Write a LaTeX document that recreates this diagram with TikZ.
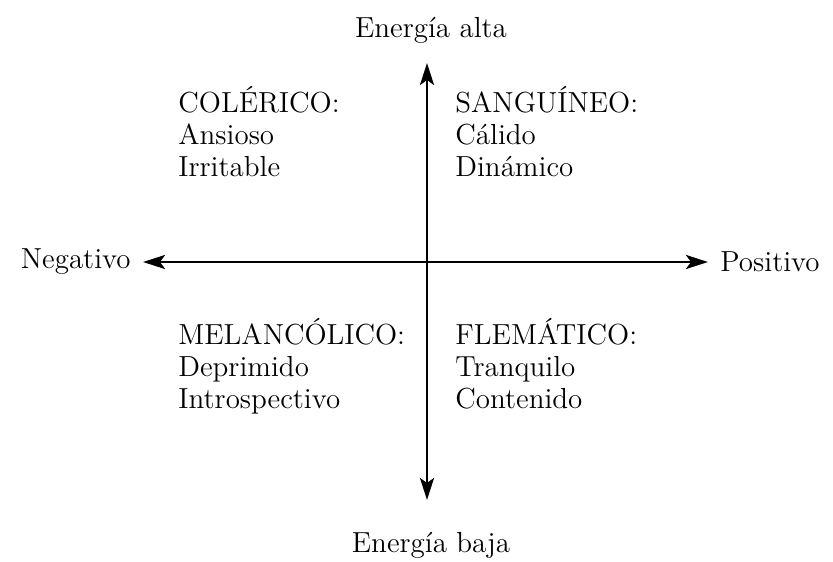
\documentclass[tikz,border=0pt]{standalone}
\usetikzlibrary{positioning,arrows.meta}

\begin{document}
\begin{tikzpicture}[
  x=0.5pt, y=-0.5pt,
  font=\fontsize{14.5}{16}\selectfont,
  lbl/.style={inner sep=0pt},
  quad/.style={align=left, inner sep=0pt, anchor=north west},
  axis/.style={line width=1.4pt, {Stealth[length=11pt,width=7pt,inset=2.5pt]}-{Stealth[length=11pt,width=7pt,inset=2.5pt]}}
]
\useasboundingbox (0,0) rectangle (833,561);
% axis labels
\node[lbl] (alta) at (431,30) {Energía alta};
\node[lbl] (baja) at (431,545) {Energía baja};
\node[lbl, anchor=east] (neg) at (131,262) {Negativo};
\node[lbl, anchor=west] (pos) at (720,262) {Positivo};
% arrow tips
\coordinate (n) at (427,63);
\coordinate (s) at (427,500);
\coordinate (w) at (143,262);
\coordinate (e) at (708,262);
% axes
\draw[axis] (w) -- (e);
\draw[axis] (n) -- (s);
% quadrants
\node[quad] (col) at (178,86) {COLÉRICO:\\Ansioso\\Irritable};
\node[quad] (san) at (455,86) {SANGUÍNEO:\\Cálido\\Dinámico};
\node[quad] (mel) at (178,318) {MELANCÓLICO:\\Deprimido\\Introspectivo};
\node[quad] (fle) at (455,318) {FLEMÁTICO:\\Tranquilo\\Contenido};
\end{tikzpicture}
\end{document}
